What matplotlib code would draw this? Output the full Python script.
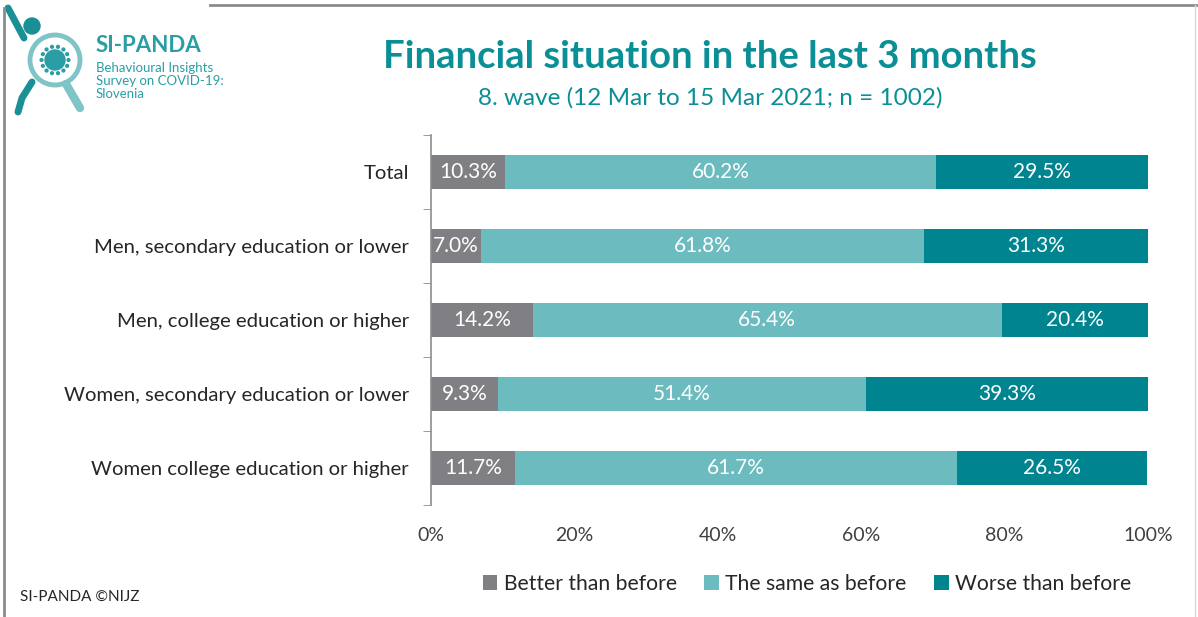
import matplotlib.pyplot as plt
from matplotlib.patches import Circle
import numpy as np

plt.rcParams['font.family'] = ['Lato', 'DejaVu Sans']

# Survey shares (%), one row per group
groups = ["Total",
          "Men, secondary education or lower",
          "Men, college education or higher",
          "Women, secondary education or lower",
          "Women college education or higher"]
better = [10.3, 7.0, 14.2, 9.3, 11.7]
same = [60.2, 61.8, 65.4, 51.4, 61.7]
worse = [29.5, 31.3, 20.4, 39.3, 26.5]
series_names = ["Better than before", "The same as before", "Worse than before"]
colors = ["#7f7f84", "#6cbbbf", "#008590"]
teal = "#0a8f96"

fig = plt.figure(figsize=(11.98, 6.17), dpi=100)
ax = fig.add_axes([431 / 1198, 1 - 505 / 617, (1148 - 431) / 1198, 370 / 617])

y = np.arange(len(groups))
left = np.zeros(len(groups))
for vals, name, col in zip([better, same, worse], series_names, colors):
    bars = ax.barh(y, vals, left=left, height=0.45, color=col, label=name)
    for b, v in zip(bars, vals):
        ax.text(b.get_x() + b.get_width() / 2, b.get_y() + b.get_height() / 2,
                f"{v:.1f}%", ha="center", va="center", color="white", fontsize=15)
    left += np.array(vals)

ax.set_xlim(0, 100)
ax.set_ylim(len(groups) - 0.5, -0.5)
ax.set_yticks(y)
ax.set_yticklabels(groups, fontsize=14.6, color="#262626")
ax.set_yticks(np.arange(-0.5, len(groups)), minor=True)
ax.tick_params(axis="y", which="major", length=0, pad=16)
ax.tick_params(axis="y", which="minor", length=6, color="#8c8c8c", direction="out")
ax.set_xticks(np.arange(0, 101, 20))
ax.set_xticklabels([f"{v}%" for v in range(0, 101, 20)], fontsize=14, color="#404040")
ax.tick_params(axis="x", length=0, pad=16)
for s in ["top", "right", "bottom"]:
    ax.spines[s].set_visible(False)
ax.spines["left"].set_color("#8c8c8c")
ax.spines["left"].set_linewidth(1.2)

ax.legend(loc="center", bbox_to_anchor=(807 / 1198, 1 - 584 / 617),
          bbox_transform=fig.transFigure, ncol=3, frameon=False, fontsize=15.2,
          handlelength=0.7, handleheight=0.7, handletextpad=0.3, columnspacing=1.3,
          labelcolor="#262626")

fig.text(710 / 1198, 1 - 57 / 617, "Financial situation in the last 3 months",
         ha="center", va="center", fontsize=27.5, fontweight="bold", color=teal)
fig.text(710 / 1198, 1 - 98 / 617, "8. wave (12 Mar to 15 Mar 2021; n = 1002)",
         ha="center", va="center", fontsize=17.5, color=teal)
fig.text(20 / 1198, 1 - 597 / 617, "SI-PANDA ©NIJZ", ha="left", va="center",
         fontsize=11, color="#262626")

# frame lines
fig.add_artist(plt.Line2D([4 / 1198, 4 / 1198], [0, 1 - 8 / 617], color="#8c8c8c", lw=2,
                          transform=fig.transFigure))
fig.add_artist(plt.Line2D([210 / 1198, 1], [1 - 5 / 617, 1 - 5 / 617], color="#8c8c8c", lw=2,
                          transform=fig.transFigure))
fig.add_artist(plt.Line2D([1195 / 1198, 1195 / 1198], [0, 1 - 5 / 617], color="#d9d9d9", lw=1,
                          transform=fig.transFigure))

# logo: magnifier with virus and figure
lax = fig.add_axes([0, 1 - 120 / 617, 90 / 1198, 120 / 617])
lax.set_xlim(0, 90)
lax.set_ylim(120, 0)
lax.set_aspect("equal")
lax.axis("off")
lax.add_patch(Circle((55, 60), 25, fill=False, ec="#7fc4c6", lw=3.5))
lax.plot([66, 80], [84, 108], color="#7fc4c6", lw=6, solid_capstyle="round")
lax.add_patch(Circle((55, 60), 10, color="#2a9ea4"))
for a in np.linspace(0, 2 * np.pi, 14, endpoint=False):
    lax.add_patch(Circle((55 + 13.5 * np.cos(a), 60 + 13.5 * np.sin(a)), 1.4, color="#2a9ea4"))
lax.add_patch(Circle((32, 26), 8, color="#1a8f96"))
lax.plot([8, 24], [8, 38], color="#1a8f96", lw=5, solid_capstyle="round")
lax.plot([32, 22, 18], [82, 98, 112], color="#1a8f96", lw=5, solid_capstyle="round")

fig.text(96 / 1198, 1 - 46 / 617, "SI-PANDA", ha="left", va="center", fontsize=16,
         fontweight="bold", color="#2a9ea4")
fig.text(96 / 1198, 1 - 81 / 617, "Behavioural Insights\nSurvey on COVID-19:\nSlovenia",
         ha="left", va="center", fontsize=9.5, color="#2a9ea4", linespacing=1.05)

fig.savefig("out.png", dpi=100)
